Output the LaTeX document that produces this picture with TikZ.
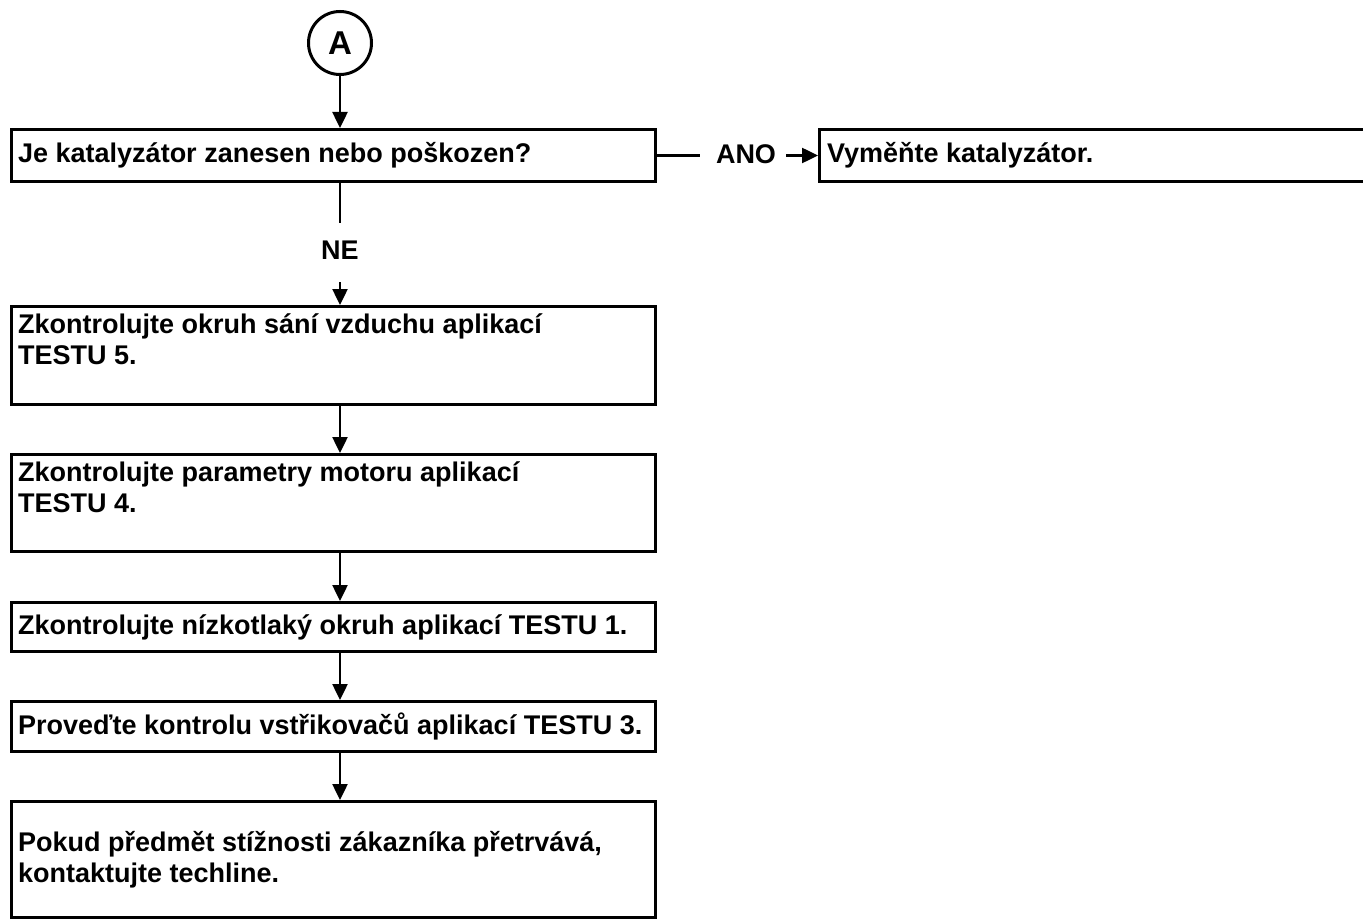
\documentclass[tikz,border=0pt]{standalone}
\usepackage{fontspec}
\setmainfont{Liberation Sans}
\usetikzlibrary{arrows.meta}
\begin{document}
\begin{tikzpicture}[x=1pt,y=-1pt,
  stepbox/.style={draw, line width=3pt, minimum width=644pt, anchor=north west, inner sep=0pt},
  txt/.style={font=\fontsize{27}{31}\selectfont\bfseries, align=left, inner sep=0pt},
  lbl/.style={font=\fontsize{27}{27}\selectfont\bfseries, inner sep=0pt},
  link/.style={line width=2.5pt},
  arr/.style={line width=2.5pt, -{Triangle[length=16pt,width=15pt]}},
]
\useasboundingbox (0,0) rectangle (1363,920);
\clip (0,0) rectangle (1363,920);

% start connector
\node[circle, draw, line width=3pt, minimum size=63pt, inner sep=0pt,
      font=\fontsize{33}{33}\selectfont\bfseries] (A) at (340,43) {A};

% boxes
\node[stepbox, minimum height=52pt] (b1) at (10,128) {};
\node[stepbox, minimum width=600pt, minimum height=52pt] (b2) at (818,128) {};
\node[stepbox, minimum height=98pt] (b3) at (10,305) {};
\node[stepbox, minimum height=97pt] (b4) at (10,453) {};
\node[stepbox, minimum height=49pt] (b5) at (10,601) {};
\node[stepbox, minimum height=50pt] (b6) at (10,700) {};
\node[stepbox, minimum height=116pt] (b7) at (10,800) {};

% box texts (base anchor of a two-line node sits on its last line)
\node[txt, anchor=west] (t1) at ([xshift=8pt]b1.west) {Je katalyzátor zanesen nebo poškozen?};
\node[txt, anchor=west] (t2) at ([xshift=9pt]b2.west) {Vyměňte katalyzátor.};
\node[txt, anchor=base west] (t3) at ([shift={(8pt,-59pt)}]b3.north west)
  {Zkontrolujte okruh sání vzduchu aplikací\\TESTU 5.};
\node[txt, anchor=base west] (t4) at ([shift={(8pt,-59pt)}]b4.north west)
  {Zkontrolujte parametry motoru aplikací\\TESTU 4.};
\node[txt, anchor=west] (t5) at ([xshift=8pt]b5.west) {Zkontrolujte nízkotlaký okruh aplikací TESTU 1.};
\node[txt, anchor=west] (t6) at ([xshift=8pt]b6.west) {Proveďte kontrolu vstřikovačů aplikací TESTU 3.};
\node[txt, anchor=west] (t7) at ([xshift=8pt]b7.west)
  {Pokud předmět stížnosti zákazníka přetrvává,\\kontaktujte techline.};

% branch labels
\node[lbl] (ano) at (746,154) {ANO};
\node[lbl] (ne) at (340,250) {NE};

% connectors
\draw[arr] (A.south) -- (A |- b1.north);
\draw[link, shorten >=16pt] (b1.east) -- (ano.west |- b1.east);
\draw[arr, shorten <=10pt] (ano.east |- b2.west) -- (b2.west);
\draw[link, shorten >=18pt] (ne |- b1.south) -- (ne.north);
\draw[arr, shorten <=23pt] (ne.south) -- (ne |- b3.north);
\draw[arr] (A |- b3.south) -- (A |- b4.north);
\draw[arr] (A |- b4.south) -- (A |- b5.north);
\draw[arr] (A |- b5.south) -- (A |- b6.north);
\draw[arr] (A |- b6.south) -- (A |- b7.north);
\end{tikzpicture}
\end{document}
